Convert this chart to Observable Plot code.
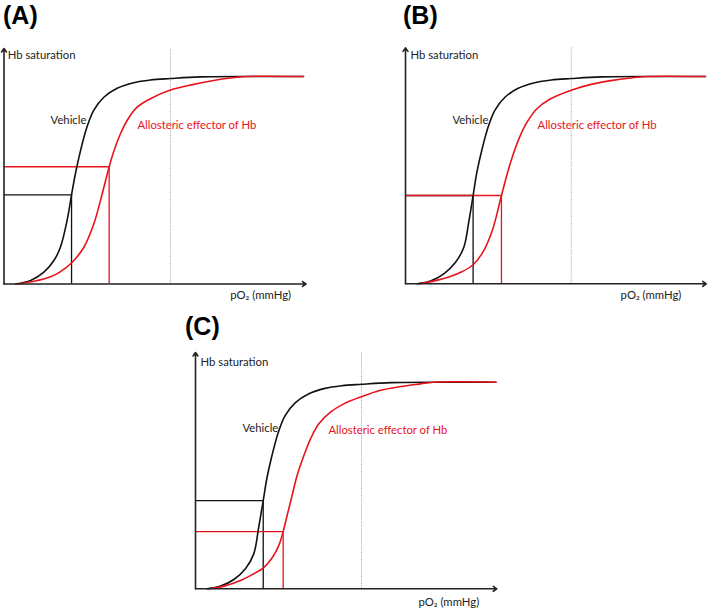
<!DOCTYPE html>
<html><head><meta charset="utf-8">
<script src="https://cdn.jsdelivr.net/npm/d3@7"></script>
<script src="https://cdn.jsdelivr.net/npm/@observablehq/plot@0.6"></script>
<style>
body{margin:0;background:#fff;}
#wrap{position:relative;width:709px;height:610px;overflow:hidden;background:#fff;}
#wrap svg{position:absolute;left:0;top:0;}
.lab{position:absolute;font:bold 25px "Liberation Sans",Arial,sans-serif;color:#000;line-height:1;}
</style></head><body><div id="wrap"></div>
<script>
// ---- data (pO2 in mmHg, saturation as fraction) ----
const panelLabels = ["(A)", "(B)", "(C)"];
const yAxisTitle = "Hb saturation";
const xAxisTitle = "pO\u2082 (mmHg)";
const seriesNames = ["Vehicle", "Allosteric effector of Hb"];
const dottedPO2 = 100;

// Panel A
const aVehPO2 = [7, 16, 24, 30, 34, 38, 40.6, 43, 46, 50, 54, 60, 68, 78, 88, 100, 118, 150, 180];
const aVehSat = [0, 0.017, 0.057, 0.113, 0.18, 0.31, 0.43, 0.535, 0.643, 0.76, 0.838, 0.9, 0.943, 0.97, 0.983, 0.99, 0.998, 1, 1];
const aEffPO2 = [8, 18, 28, 34, 41, 48, 54, 59, 63.2, 66, 70, 74, 80, 88, 100, 114, 126, 136, 145, 180];
const aEffSat = [0, 0.013, 0.035, 0.06, 0.105, 0.177, 0.29, 0.434, 0.565, 0.64, 0.724, 0.788, 0.852, 0.893, 0.935, 0.962, 0.981, 0.993, 1, 1];
const aVehMark = [40.6, 0.43];
const aEffMark = [63.2, 0.565];

// Panel B
const bVehPO2 = [7, 15.1, 23.1, 30.2, 35.2, 38.2, 40.8, 43, 46, 50, 54, 60, 68, 78, 88, 100, 118, 150, 181];
const bVehSat = [0, 0.013, 0.048, 0.104, 0.176, 0.3, 0.426, 0.535, 0.643, 0.76, 0.838, 0.9, 0.943, 0.97, 0.983, 0.99, 0.998, 1, 1];
const bEffPO2 = [8, 17, 27, 34, 40.8, 46.5, 52.5, 57.9, 62, 65, 69, 73, 79, 87, 100, 112, 124, 136, 145, 181];
const bEffSat = [0, 0.013, 0.035, 0.058, 0.092, 0.15, 0.26, 0.426, 0.548, 0.625, 0.71, 0.775, 0.842, 0.89, 0.934, 0.962, 0.98, 0.993, 1, 1];
const bVehMark = [40.8, 0.426];
const bEffMark = [57.9, 0.426];

// Panel C
const cVehPO2 = [7, 15.1, 23.1, 30.1, 35.1, 38.1, 40.8, 43, 46, 50, 54, 60, 68, 78, 88, 100, 118, 150, 181];
const cVehSat = [0, 0.013, 0.045, 0.097, 0.169, 0.3, 0.427, 0.535, 0.643, 0.76, 0.838, 0.9, 0.943, 0.97, 0.983, 0.99, 0.998, 1, 1];
const cEffPO2 = [8, 17.1, 27.1, 35.1, 40.8, 46.2, 50.2, 52.8, 55.2, 58.2, 61.2, 65.3, 69.3, 74.3, 81.3, 89.3, 100, 111, 123.5, 135.5, 143.5, 181];
const cEffSat = [0, 0.013, 0.04, 0.073, 0.1, 0.15, 0.21, 0.277, 0.355, 0.452, 0.548, 0.645, 0.726, 0.799, 0.855, 0.895, 0.93, 0.96, 0.979, 0.992, 1, 1];
const cVehMark = [40.8, 0.427];
const cEffMark = [52.8, 0.277];

// ---- layout (page coordinates) ----
const panels = [
  {label: panelLabels[0], lab: [3, 3], xr: [3.5, 303], yr: [283.5, 76], top: 1.135, axEnd: 181.5,
   veh: [aVehPO2, aVehSat], eff: [aEffPO2, aEffSat], vm: aVehMark, em: aEffMark,
   tY: [2.2, 1.1], tV: [28, 0.788], tE: [80.2, 0.764], tX: [136, -0.055]},
  {label: panelLabels[1], lab: [403, 3], xr: [405, 703.3], yr: [283.3, 76], top: 1.138, axEnd: 181.5,
   veh: [bVehPO2, bVehSat], eff: [bEffPO2, bEffSat], vm: bVehMark, em: bEffMark,
   tY: [3, 1.1], tV: [28.4, 0.788], tE: [79.7, 0.764], tX: [129.8, -0.055]},
  {label: panelLabels[2], lab: [185, 314], xr: [195, 493.8], yr: [588.3, 381.7], top: 1.144, axEnd: 181.5,
   veh: [cVehPO2, cVehSat], eff: [cEffPO2, cEffSat], vm: cVehMark, em: cEffMark,
   tY: [3, 1.095], tV: [28.3, 0.776], tE: [80.1, 0.766], tX: [134.3, -0.066]}
];

const RED = "#e8141c", BLK = "#111";
const wrap = document.getElementById("wrap");
const toRows = ([xs, ys]) => xs.map((x, i) => ({x, y: ys[i]}));

for (const p of panels) {
  const txt = (t, [x, y], fill, opts = {}) => Plot.text([t], {x: () => x, y: () => y, text: d => d, fill,
    textAnchor: "start", fontFamily: "Lato, 'Open Sans', sans-serif", fontSize: 11.3, ...opts});
  const svg = Plot.plot({
    width: 709, height: 610, margin: 0,
    style: {background: "transparent", overflow: "visible"},
    x: {domain: [0, 180], range: p.xr, axis: null},
    y: {domain: [0, 1], range: p.yr, axis: null},
    marks: [
      Plot.ruleX([dottedPO2], {y1: 0, y2: p.top, stroke: "#a0a0a0", strokeWidth: 1, strokeDasharray: "1,1.2"}),
      Plot.ruleY([p.vm], {y: d => d[1], x1: 0, x2: d => d[0], stroke: BLK, strokeWidth: 1.3}),
      Plot.ruleX([p.vm], {x: d => d[0], y1: 0, y2: d => d[1], stroke: BLK, strokeWidth: 1.3}),
      Plot.ruleY([p.em], {y: d => d[1], x1: 0, x2: d => d[0], stroke: RED, strokeWidth: 1.3}),
      Plot.ruleX([p.em], {x: d => d[0], y1: 0, y2: d => d[1], stroke: RED, strokeWidth: 1.3}),
      Plot.line(toRows(p.veh), {x: "x", y: "y", stroke: BLK, strokeWidth: 1.6, curve: "catmull-rom"}),
      Plot.line(toRows(p.eff), {x: "x", y: "y", stroke: RED, strokeWidth: 1.6, curve: "catmull-rom"}),
      Plot.arrow([0], {x1: 0, y1: 0, x2: 0, y2: p.top, stroke: "#222", strokeWidth: 1.6, headLength: 4, headAngle: 70}),
      Plot.arrow([0], {x1: 0, y1: 0, x2: p.axEnd, y2: 0, stroke: "#222", strokeWidth: 1.6, headLength: 4, headAngle: 70}),
      txt(yAxisTitle, p.tY, "#222"),
      txt(seriesNames[0], p.tV, "#222"),
      txt(seriesNames[1], p.tE, RED),
      txt(xAxisTitle, p.tX, "#222")
    ]
  });
  wrap.appendChild(svg);
  const d = document.createElement("div");
  d.className = "lab";
  d.textContent = p.label;
  d.style.left = p.lab[0] + "px";
  d.style.top = p.lab[1] + "px";
  wrap.appendChild(d);
}
</script></body></html>
